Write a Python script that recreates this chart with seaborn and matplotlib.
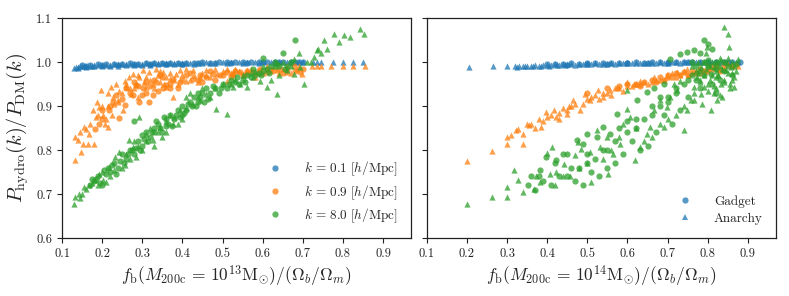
import numpy as np
import pandas as pd
import matplotlib
matplotlib.use("Agg")
import matplotlib.pyplot as plt
import seaborn as sns
from matplotlib.lines import Line2D

# ---------------- data ----------------
k_labels = ["0.1", "0.9", "8.0"]
sims = ["Gadget", "Anarchy"]
panels = ["13", "14"]

# ---- M200c = 1e13 panel ----
m13_k01_anarchy_x = [0.13,0.135,0.14,0.145,0.15,0.155,0.16,0.17,0.175,0.18,0.19,0.2,0.21,0.22,0.23,0.24,0.25,0.26,0.27,0.28,0.29,0.3,0.31,0.32,0.33,0.34,0.35,0.36,0.37,0.38,0.39,0.4,0.41,0.42,0.44,0.45,0.46,0.48,0.5,0.52,0.54,0.56,0.58,0.6,0.62,0.64,0.66,0.68,0.7,0.725,0.735,0.745,0.775,0.8,0.825,0.85,
                     0.14,0.16,0.18,0.2,0.22,0.24,0.26,0.28,0.3,0.32,0.34,0.36,0.38,0.4,0.43,0.47,0.51,0.55,0.59,0.63,0.67,0.69]
m13_k01_anarchy_y = [0.987,0.988,0.989,0.99,0.99,0.991,0.991,0.992,0.992,0.993,0.993,0.994,0.994,0.994,0.995,0.995,0.995,0.996,0.995,0.996,0.996,0.996,0.997,0.996,0.997,0.997,0.997,0.997,0.998,0.997,0.998,0.998,0.997,0.998,0.998,0.998,0.999,0.998,0.999,0.999,0.999,0.999,0.999,1.0,0.999,1.0,1.0,1.0,1.0,1.0,0.999,1.0,1.0,1.0,1.0,1.0,
                     0.986,0.988,0.99,0.991,0.992,0.992,0.993,0.993,0.994,0.994,0.995,0.995,0.995,0.996,0.996,0.997,0.997,0.998,0.998,0.998,0.999,0.999]
m13_k01_gadget_x = [0.15,0.17,0.19,0.21,0.23,0.25,0.27,0.29,0.31,0.33,0.35,0.37,0.39,0.41,0.43,0.45,0.47,0.49,0.51,0.53,0.55,0.57,0.59,0.61,0.63,0.65,0.67,0.69,0.7,
                    0.16,0.2,0.24,0.28,0.32,0.36,0.4,0.44,0.48,0.52,0.56,0.6,0.64,0.68]
m13_k01_gadget_y = [0.993,0.994,0.995,0.995,0.996,0.996,0.997,0.996,0.997,0.997,0.998,0.997,0.998,0.998,0.998,0.999,0.998,0.999,0.999,0.999,0.999,1.0,0.999,1.0,1.0,1.0,1.0,1.0,1.0,
                    0.991,0.993,0.994,0.995,0.995,0.996,0.996,0.997,0.997,0.998,0.998,0.999,0.999,0.999]

m13_k09_anarchy_x = [0.133,0.133,0.139,0.148,0.153,0.156,0.159,0.167,0.164,0.177,0.179,0.185,0.188,0.193,0.198,0.202,0.208,0.21,0.214,0.222,0.226,0.235,0.239,0.243,0.252,0.256,0.26,0.268,0.272,0.276,0.285,0.293,0.301,0.31,0.318,0.327,0.335,0.343,0.352,0.36,0.368,0.377,0.385,0.393,0.41,0.427,0.443,0.46,0.485,0.51,0.51,0.527,0.56,0.585,0.61,0.635,0.66,0.685,0.698,0.723,0.735,0.745,0.77,0.80,0.825,0.855,
                     0.305,0.32,0.34,0.355,0.37,0.38,0.4,0.42,0.45,0.47,0.5,0.53,0.55,0.57,0.6,0.62,0.65,0.67,0.69,0.25,0.23,0.28,0.29,0.2,0.215,
                     0.24,0.26,0.27,0.29,0.31,0.33,0.345,0.36,0.39,0.41,0.43,0.44,0.46,0.48,0.52,0.54,0.58,0.61,0.64,0.66,0.215,0.225,0.17,0.19,0.145]
m13_k09_anarchy_y = [0.777,0.83,0.822,0.795,0.814,0.852,0.848,0.837,0.814,0.89,0.814,0.875,0.909,0.898,0.936,0.88,0.86,0.87,0.852,0.944,0.92,0.95,0.913,0.935,0.89,0.958,0.943,0.966,0.928,0.973,0.95,0.966,0.981,0.943,0.977,0.95,0.985,0.955,0.977,0.943,0.962,0.92,0.973,0.981,0.958,0.981,0.966,0.981,0.973,0.985,0.958,0.973,0.981,0.976,0.985,0.981,0.977,0.985,0.973,0.991,0.991,0.991,0.991,0.991,0.991,0.991,
                     0.955,0.96,0.97,0.95,0.975,0.96,0.97,0.96,0.975,0.965,0.98,0.985,0.97,0.985,0.975,0.98,0.985,0.975,0.99,0.93,0.905,0.94,0.92,0.9,0.93,
                     0.91,0.95,0.94,0.97,0.965,0.94,0.98,0.965,0.95,0.985,0.97,0.955,0.97,0.985,0.975,0.98,0.965,0.99,0.975,0.99,0.9,0.88,0.86,0.88,0.84]
m13_k09_gadget_x = [0.181,0.193,0.2,0.218,0.227,0.235,0.243,0.256,0.26,0.277,0.285,0.293,0.302,0.31,0.318,0.327,0.335,0.343,0.352,0.36,0.377,0.393,0.41,0.427,0.443,0.46,0.477,0.493,0.51,0.527,0.543,0.56,0.577,0.593,0.61,0.627,0.643,0.66,0.677,0.693,0.70,0.30,0.32,0.34,0.37,0.39,0.45,0.48,0.52,0.55,
                    0.25,0.27,0.29,0.31,0.33,0.35,0.37,0.4,0.42,0.44,0.47,0.5,0.53,0.56,0.59,0.62,0.65,0.68,0.2,0.22,0.28]
m13_k09_gadget_y = [0.848,0.86,0.89,0.89,0.91,0.925,0.872,0.902,0.94,0.925,0.947,0.91,0.94,0.955,0.91,0.925,0.955,0.97,0.94,0.947,0.962,0.955,0.97,0.962,0.97,0.966,0.973,0.97,0.977,0.973,0.977,0.98,0.977,0.985,0.977,0.981,0.985,0.981,0.99,0.977,0.985,0.925,0.945,0.935,0.95,0.94,0.955,0.96,0.965,0.97,
                    0.915,0.93,0.945,0.93,0.96,0.965,0.94,0.96,0.975,0.96,0.98,0.97,0.98,0.975,0.98,0.985,0.975,0.98,0.87,0.9,0.955]

m13_k80_anarchy_x = [0.131,0.133,0.143,0.151,0.16,0.168,0.181,0.193,0.201,0.21,0.218,0.231,0.243,0.256,0.268,0.276,0.293,0.285,0.31,0.327,0.343,0.36,0.377,0.393,0.41,0.427,0.443,0.46,0.483,0.51,0.527,0.543,0.56,0.577,0.593,0.61,0.635,0.66,0.677,0.677,0.693,0.702,0.71,0.727,0.735,0.745,0.752,0.738,0.777,0.802,0.818,0.843,0.852,
                     0.3,0.32,0.35,0.37,0.4,0.42,0.45,0.47,0.5,0.55,0.6,0.64,0.25,0.22,0.19,0.27,0.28,0.33,0.36,0.39,0.53,0.58,0.62,0.65,0.67,
                     0.145,0.155,0.175,0.2,0.23,0.26,0.29,0.31,0.34,0.38,0.41,0.44,0.48,0.52,0.57,0.63,0.69,0.72,0.76,0.79]
m13_k80_anarchy_y = [0.678,0.693,0.70,0.70,0.712,0.72,0.731,0.746,0.731,0.727,0.761,0.784,0.795,0.765,0.822,0.807,0.875,0.784,0.837,0.822,0.852,0.867,0.86,0.89,0.92,0.905,0.913,0.928,0.894,0.883,0.943,0.951,0.943,0.966,0.958,0.943,0.928,0.981,0.973,1.008,0.989,0.951,1.0,1.011,1.027,1.02,1.049,1.03,1.064,1.061,1.056,1.076,1.064,
                     0.8,0.85,0.83,0.88,0.87,0.93,0.94,0.92,0.95,0.97,0.99,0.97,0.76,0.74,0.72,0.78,0.82,0.81,0.84,0.86,0.96,0.98,0.96,1.0,0.99,
                     0.69,0.715,0.725,0.75,0.755,0.79,0.81,0.82,0.84,0.875,0.895,0.92,0.94,0.95,0.975,0.99,1.02,1.0,1.03,1.045]
m13_k80_gadget_x = [0.17,0.18,0.19,0.2,0.21,0.22,0.23,0.24,0.25,0.26,0.27,0.28,0.29,0.30,0.31,0.32,0.33,0.34,0.35,0.36,0.37,0.38,0.39,0.40,0.41,0.42,0.43,0.44,0.45,0.46,0.47,0.48,0.5,0.52,0.54,0.56,0.58,0.6,0.6,0.62,0.63,0.65,0.66,0.68,0.67,
                    0.185,0.205,0.225,0.245,0.265,0.285,0.305,0.325,0.345,0.365,0.385,0.405,0.425,0.445,0.465,0.49,0.51,0.53,0.55,0.57,0.59,0.61,0.64,0.28,
                    0.175,0.195,0.215,0.235,0.255,0.275,0.295,0.315,0.335,0.355,0.375,0.395,0.415,0.435,0.455,0.475,0.495,0.515,0.535,0.555,0.575,0.595,0.615,0.635,0.655,0.3,0.33,0.36,0.4,0.44]
m13_k80_gadget_y = [0.72,0.73,0.74,0.72,0.745,0.75,0.77,0.76,0.79,0.78,0.80,0.79,0.82,0.81,0.84,0.83,0.85,0.86,0.84,0.87,0.88,0.87,0.89,0.90,0.89,0.91,0.92,0.91,0.93,0.94,0.93,0.94,0.95,0.96,0.95,0.97,0.97,0.98,1.01,0.99,1.0,1.02,0.99,1.05,1.0,
                    0.735,0.755,0.765,0.775,0.79,0.805,0.825,0.84,0.85,0.86,0.88,0.885,0.9,0.92,0.915,0.93,0.94,0.955,0.96,0.965,0.975,0.985,0.99,0.865,
                    0.735,0.725,0.76,0.745,0.77,0.8,0.8,0.82,0.865,0.875,0.855,0.875,0.905,0.9,0.91,0.945,0.94,0.95,0.965,0.955,0.985,0.97,0.975,0.995,0.985,0.835,0.84,0.855,0.88,0.93]

# ---- M200c = 1e14 panel ----
m14_k01_anarchy_x = [0.205,0.265,0.3,0.32,0.33,0.34,0.35,0.36,0.37,0.38,0.39,0.40,0.41,0.42,0.43,0.44,0.45,0.46,0.48,0.5,0.52,0.54,0.56,0.58,0.6,0.62,0.64,0.66,0.68,0.7,0.72,0.74,0.76,0.78,0.8,0.82,0.84,0.86,0.875,
                     0.325,0.345,0.365,0.385,0.405,0.425,0.445,0.47,0.49,0.51,0.53,0.55,0.57,0.59,0.61,0.63,0.65,0.67,0.69,0.71,0.73,0.75,0.77,0.79,0.81,0.83,0.85,0.87]
m14_k01_anarchy_y = [0.988,0.99,0.99,0.991,0.99,0.992,0.991,0.992,0.993,0.992,0.993,0.994,0.993,0.995,0.994,0.995,0.995,0.996,0.995,0.996,0.997,0.996,0.997,0.997,0.998,0.997,0.998,0.998,0.999,0.998,0.999,0.999,1.0,0.999,1.0,1.0,1.0,1.0,1.0,
                     0.989,0.99,0.991,0.991,0.992,0.993,0.993,0.994,0.995,0.995,0.996,0.996,0.996,0.997,0.997,0.998,0.997,0.998,0.998,0.999,0.998,0.999,0.999,1.0,0.999,1.0,1.0,1.0]
m14_k01_gadget_x = [0.4,0.42,0.44,0.46,0.48,0.5,0.52,0.54,0.56,0.58,0.6,0.62,0.64,0.66,0.68,0.7,0.72,0.74,0.76,0.78,0.8,0.82,0.84,0.86,0.88,
                    0.45,0.5,0.55,0.6,0.65,0.7,0.75,0.8,0.85]
m14_k01_gadget_y = [0.995,0.996,0.996,0.997,0.996,0.997,0.997,0.998,0.997,0.998,0.998,0.999,0.998,0.999,0.999,1.0,0.999,1.0,1.0,1.0,1.0,1.0,1.0,1.0,1.0,
                    0.994,0.995,0.996,0.997,0.997,0.998,0.999,0.999,1.0]

m14_k09_anarchy_x = [0.2,0.262,0.299,0.299,0.322,0.326,0.34,0.34,0.355,0.379,0.385,0.398,0.418,0.422,0.439,0.448,0.464,0.481,0.494,0.506,0.527,0.54,0.556,0.573,0.598,0.615,0.632,0.665,0.699,0.724,0.749,0.875,
                     0.36,0.37,0.41,0.43,0.455,0.47,0.5,0.52,0.55,0.58,0.6,0.62,0.64,0.66,0.68,0.7,0.71,0.73,0.74,0.76,0.78,0.8,0.82,0.84,0.86,
                     0.31,0.35,0.39,0.4,0.43,0.45,0.46,0.49,0.51,0.53,0.54,0.56,0.57,0.59,0.61,0.63,0.65,0.67,0.69,0.72,0.75,0.77,0.79,0.81,0.83,0.85,0.87]
m14_k09_anarchy_y = [0.774,0.797,0.829,0.814,0.845,0.848,0.836,0.814,0.856,0.871,0.852,0.886,0.89,0.875,0.896,0.883,0.913,0.89,0.928,0.913,0.936,0.92,0.936,0.943,0.955,0.951,0.958,0.966,0.97,0.977,0.985,0.992,
                     0.86,0.85,0.88,0.885,0.9,0.905,0.915,0.925,0.93,0.94,0.945,0.95,0.955,0.955,0.96,0.965,0.975,0.97,0.98,0.975,0.985,0.98,0.99,0.985,0.99,
                     0.835,0.86,0.865,0.875,0.87,0.89,0.9,0.905,0.92,0.915,0.93,0.925,0.94,0.935,0.945,0.95,0.95,0.96,0.96,0.965,0.97,0.98,0.98,0.99,0.985,0.995,0.995]
m14_k09_gadget_x = [0.5,0.55,0.58,0.62,0.64,0.66,0.68,0.70,0.72,0.74,0.76,0.78,0.8,0.82,0.84,0.75,0.77,0.79,0.81,0.83,
                    0.6,0.63,0.67,0.69,0.71,0.73,0.78,0.86]
m14_k09_gadget_y = [0.93,0.94,0.945,0.95,0.955,0.96,0.965,0.97,0.975,0.978,0.98,0.985,0.985,0.99,0.99,0.97,0.975,0.98,0.985,0.98,
                    0.95,0.945,0.955,0.96,0.965,0.97,0.975,0.99]

m14_k80_anarchy_x = [0.2,0.262,0.299,0.299,0.318,0.326,0.339,0.366,0.371,0.381,0.40,0.412,0.406,0.422,0.443,0.456,0.469,0.477,0.485,0.506,0.51,0.523,0.531,0.548,0.552,0.565,0.582,0.59,0.598,0.607,0.619,0.632,0.649,0.657,0.665,0.682,0.69,0.699,0.707,0.716,0.724,0.732,0.741,0.749,0.757,0.766,0.774,0.783,0.799,0.808,0.816,0.824,0.833,0.841,0.85,0.858,0.866,0.875,0.854,0.783,0.791,0.766,0.833,0.82,0.845,0.866,0.6,
                     0.77,0.78,0.79,0.8,0.81,0.82,0.83,0.84,0.85,0.86,0.795,0.815,0.835,0.855,0.805,0.825,
                     0.76,0.765,0.775,0.78,0.785,0.79,0.795,0.8,0.805,0.81,0.815,0.82,0.825,0.83,0.835,0.84,0.845,0.85,0.855,0.86,0.865,0.87,0.775,0.8,0.83,0.86,0.72,0.74,0.7,0.68,0.66,0.64,0.62,0.58,0.56,0.54,0.5,0.48,0.44,0.42]
m14_k80_anarchy_y = [0.678,0.693,0.693,0.717,0.754,0.731,0.705,0.712,0.742,0.727,0.793,0.807,0.746,0.75,0.769,0.742,0.788,0.818,0.803,0.795,0.727,0.845,0.807,0.83,0.746,0.792,0.814,0.86,0.894,0.875,0.777,0.807,0.837,0.852,0.89,0.913,0.852,0.898,0.92,0.951,0.936,0.958,0.845,0.89,0.913,0.943,0.966,0.989,1.034,0.89,0.989,0.913,0.951,1.08,1.064,0.989,0.966,1.008,1.034,0.928,0.943,0.913,1.004,0.966,0.981,0.943,0.937,
                     0.98,0.96,1.0,0.95,0.97,0.94,0.99,0.96,1.01,0.975,1.02,0.93,0.92,0.95,0.99,0.97,
                     0.99,0.93,0.975,0.955,0.905,0.97,0.985,0.935,0.96,1.0,0.945,0.98,0.97,0.925,0.985,0.955,1.0,0.975,0.94,0.96,0.99,0.98,1.0,0.995,1.01,1.0,0.88,0.9,0.87,0.86,0.83,0.82,0.85,0.83,0.8,0.78,0.77,0.76,0.74,0.72]
m14_k80_gadget_x = [0.351,0.381,0.397,0.422,0.448,0.473,0.488,0.498,0.523,0.54,0.556,0.573,0.598,0.623,0.649,0.665,0.69,0.707,0.732,0.749,0.766,0.791,0.808,0.824,
                    0.45,0.48,0.5,0.52,0.55,0.57,0.6,0.62,0.64,0.66,0.68,0.7,0.72,0.74,0.76,0.78,0.8,0.82,0.84,0.79,0.81,0.77,0.75,0.73,0.71,0.69,0.67,0.65,0.63,0.61,0.59,0.57,0.55,0.53,0.51,0.49,0.47,0.43,0.41,0.39,0.37,
                    0.76,0.77,0.78,0.79,0.8,0.81,0.82,0.83,0.84,0.85,0.86,0.87,0.78,0.8,0.82,0.75,0.72,0.7,0.68,0.66,0.62,0.58,0.54,0.5,0.46,0.44,0.42,0.38,0.36]
m14_k80_gadget_y = [0.72,0.754,0.784,0.777,0.792,0.822,0.814,0.837,0.83,0.852,0.837,0.883,0.867,0.913,0.932,0.94,0.951,1.008,1.019,1.023,1.027,1.049,0.973,0.996,
                    0.74,0.76,0.79,0.78,0.8,0.82,0.84,0.85,0.87,0.88,0.9,0.91,0.93,0.95,0.97,0.98,0.99,1.0,0.98,1.0,1.03,0.96,0.92,0.89,0.86,0.88,0.84,0.81,0.8,0.82,0.79,0.77,0.76,0.74,0.75,0.72,0.73,0.74,0.72,0.73,0.71,
                    1.0,0.99,1.02,0.97,1.005,0.95,0.985,0.96,1.0,0.99,0.97,0.995,0.94,1.04,0.93,0.96,0.94,0.92,0.92,0.9,0.87,0.85,0.8,0.77,0.76,0.79,0.77,0.74,0.74]

# ---------------- assemble ----------------
series = {
    ("13", "0.1", "Gadget"): (m13_k01_gadget_x, m13_k01_gadget_y),
    ("13", "0.1", "Anarchy"): (m13_k01_anarchy_x, m13_k01_anarchy_y),
    ("13", "0.9", "Gadget"): (m13_k09_gadget_x, m13_k09_gadget_y),
    ("13", "0.9", "Anarchy"): (m13_k09_anarchy_x, m13_k09_anarchy_y),
    ("13", "8.0", "Gadget"): (m13_k80_gadget_x, m13_k80_gadget_y),
    ("13", "8.0", "Anarchy"): (m13_k80_anarchy_x, m13_k80_anarchy_y),
    ("14", "0.1", "Gadget"): (m14_k01_gadget_x, m14_k01_gadget_y),
    ("14", "0.1", "Anarchy"): (m14_k01_anarchy_x, m14_k01_anarchy_y),
    ("14", "0.9", "Gadget"): (m14_k09_gadget_x, m14_k09_gadget_y),
    ("14", "0.9", "Anarchy"): (m14_k09_anarchy_x, m14_k09_anarchy_y),
    ("14", "8.0", "Gadget"): (m14_k80_gadget_x, m14_k80_gadget_y),
    ("14", "8.0", "Anarchy"): (m14_k80_anarchy_x, m14_k80_anarchy_y),
}
rows = []
for (p, k, s), (xs, ys) in series.items():
    for x, y in zip(xs, ys):
        rows.append({"panel": p, "k": k, "sim": s, "fb": x, "ratio": y})
df = pd.DataFrame(rows)

# ---------------- style ----------------
sns.set_theme(style="ticks")
plt.rcParams["font.family"] = ["serif"]
plt.rcParams["font.serif"] = ["cmr10", "DejaVu Serif"]
plt.rcParams["mathtext.fontset"] = "cm"
plt.rcParams["axes.formatter.use_mathtext"] = True
plt.rcParams["axes.unicode_minus"] = False

colors = {"0.1": "#1f77b4", "0.9": "#ff7f0e", "8.0": "#2ca02c"}
markers = {"Gadget": "o", "Anarchy": "^"}

fig = plt.figure(figsize=(7.89, 2.96), dpi=100)
ax1 = fig.add_axes([0.0786, 0.196, 0.4425, 0.743])
ax2 = fig.add_axes([0.541, 0.196, 0.4425, 0.743])

for ax, p in zip([ax1, ax2], panels):
    d = df[df.panel == p]
    for k in k_labels:
        for s in sims:
            dd = d[(d.k == k) & (d.sim == s)]
            sns.scatterplot(data=dd, x="fb", y="ratio", ax=ax, color=colors[k],
                            marker=markers[s], s=20, alpha=0.75, linewidth=0,
                            legend=False)
    ax.set_xlim(0.1, 0.97)
    ax.set_ylim(0.6, 1.1)
    ax.set_xticks(np.arange(0.1, 0.91, 0.1))
    ax.set_xticklabels([f"{v:.1f}" for v in np.arange(0.1, 0.91, 0.1)])
    ax.set_yticks(np.arange(0.6, 1.11, 0.1))
    ax.tick_params(direction="out", length=3.5, width=0.8, labelsize=9, colors="#222222")
    for sp in ax.spines.values():
        sp.set_linewidth(0.9)
        sp.set_color("#222222")
        sp.set_visible(True)

ax1.set_yticklabels([f"{v:.1f}" for v in np.arange(0.6, 1.11, 0.1)])
ax2.set_yticklabels([])
ax1.set_ylabel(r"$P_{\rm hydro}(k)/P_{\rm DM}(k)$", fontsize=14.5, labelpad=4)
ax2.set_ylabel("")
ax1.set_xlabel(r"$f_{\rm b}(M_{\rm 200c}\,=\,10^{13}{\rm M}_{\odot})/(\Omega_b/\Omega_m)$", fontsize=12.5, labelpad=3)
ax2.set_xlabel(r"$f_{\rm b}(M_{\rm 200c}\,=\,10^{14}{\rm M}_{\odot})/(\Omega_b/\Omega_m)$", fontsize=12.5, labelpad=3)

h1 = [Line2D([], [], marker="o", ls="", color=colors[k], alpha=0.75, markersize=4.5, markeredgewidth=0)
      for k in k_labels]
l1 = [rf"$k\,=\,{k}\ [h/{{\rm Mpc}}]$" for k in k_labels]
ax1.legend(h1, l1, loc="lower right", frameon=False, fontsize=9.5, handletextpad=1.2,
           borderaxespad=0.6, labelspacing=0.35)

h2 = [Line2D([], [], marker=markers[s], ls="", color=colors["0.1"], alpha=0.75, markersize=4.5,
             markeredgewidth=0) for s in sims]
ax2.legend(h2, sims, loc="lower right", frameon=False, fontsize=9.5, handletextpad=1.2,
           borderaxespad=0.6, labelspacing=0.35)

fig.savefig("out.png", dpi=100)
